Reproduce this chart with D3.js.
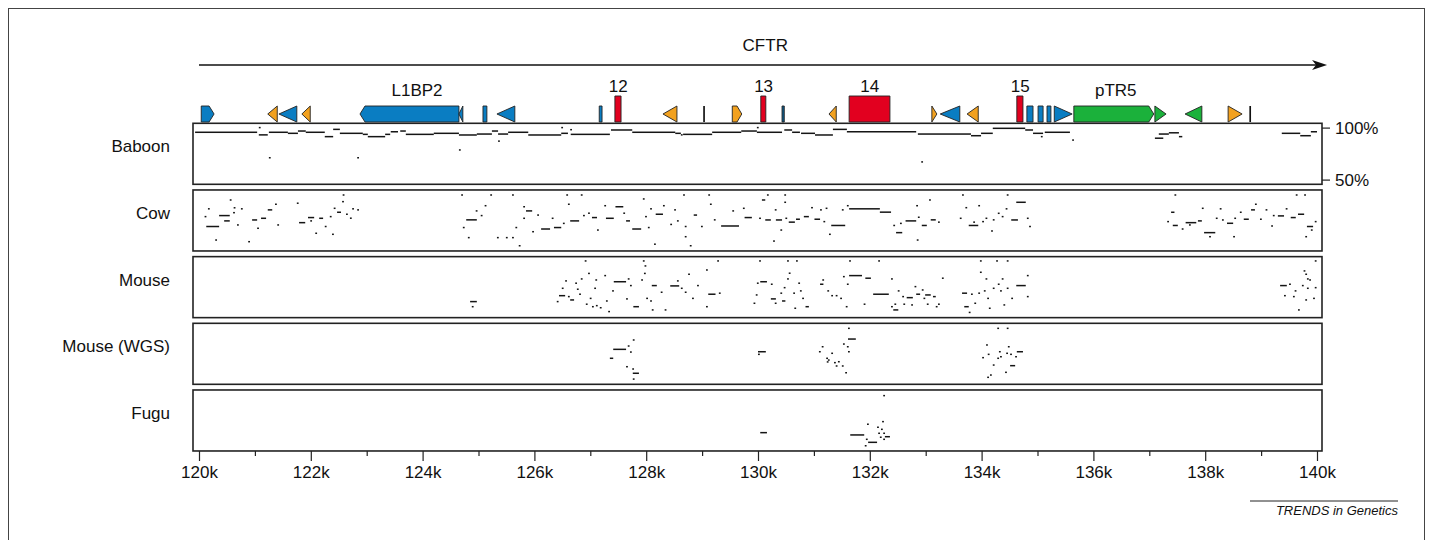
<!DOCTYPE html>
<html><head><meta charset="utf-8">
<script src="https://cdn.jsdelivr.net/npm/d3@7"></script>
<style>body{margin:0;background:#fff}svg{display:block}text{font-family:"Liberation Sans",Arial,sans-serif;fill:#111}</style>
</head><body><svg id="c" width="1433" height="540"></svg>
<script>
// ---------- DATA ----------
const species = ["Baboon","Cow","Mouse","Mouse (WGS)","Fugu"];
const xMajor = [120,122,124,126,128,130,132,134,136,138,140];
const xMinor = [121,123,125,127,129,131,133,135,137,139];
const xTickLabels = ["120k","122k","124k","126k","128k","130k","132k","134k","136k","138k","140k"];
const yTicks = [100,50];
const yTickLabels = ["100%","50%"];
const geneName = "CFTR";
const geneSpan = [120, 140.18];
const featStart = [120.04,121.23,121.43,121.84,122.88,124.65,125.08,125.33,127.16,127.44,128.30,129.02,129.54,130.05,130.43,131.27,131.63,133.11,133.26,133.74,134.63,134.81,135.01,135.17,135.30,135.65,137.10,137.64,138.41,138.79];
const featEnd   = [120.27,121.40,121.75,121.99,124.65,124.72,125.15,125.65,127.21,127.55,128.55,129.05,129.71,130.14,130.47,131.40,132.36,133.20,133.61,133.94,134.74,134.92,135.10,135.24,135.62,137.08,137.30,137.94,138.66,138.82];
const featShape = ["pentR","triL","triL","triL","pentL","triL","bar","triL","bar","exon","triL","bar","pentR","exon","bar","triL","exon","triR","triL","triL","exon","bar","bar","bar","triR","pentR","triR","triL","triR","bar"];
const featKind  = ["blue","orange","blue","orange","blue","blue","blue","blue","blue","red","orange","black","orange","red","navy","orange","red","orange","blue","orange","red","blue","blue","blue","blue","green","green","green","orange","black"];
const featLabels = ["L1BP2","12","13","14","15","pTR5"];
const featLabelPos = [123.9,127.50,130.10,132.0,134.69,136.40];
const featLabelKind = ["repeat","exon","exon","exon","exon","repeat"];

// [start kb, end kb, % identity]
const baboon = [
[119.93,121.04,95.5],[121.07,121.23,93],[121.25,121.59,95.5],[121.59,121.77,94.5],[121.77,121.91,96.7],[121.91,122.25,95.5],[122.25,122.40,91.3],[122.40,122.52,98.3],[122.52,122.93,94.5],[122.93,123.02,93.5],[123.02,123.33,91.3],[123.33,123.42,93.5],[123.43,123.56,96],[123.60,123.70,96.7],[123.70,124.20,93.5],[124.20,124.65,94.5],[124.65,124.97,92.9],[124.97,125.24,93.8],[125.24,125.35,96.7],[125.35,125.53,93.8],[125.53,125.89,95.5],[125.89,126.48,92.9],[126.48,126.60,94.5],[126.65,127.35,93.5],[127.37,127.75,97.7],[127.75,128.52,95.5],[128.52,128.62,94.5],[128.66,129.18,93.5],[129.18,129.70,95.5],[129.70,129.98,96.7],
[129.98,130.43,95.5],[130.47,130.61,97.7],[130.61,130.75,95.5],[130.77,131.02,94.5],[131.02,131.34,92.9],[131.34,131.59,98.3],[131.59,132.83,96],[132.86,133.81,93.8],[133.81,133.99,92.2],[133.99,134.20,94.5],[134.20,134.78,99.3],[134.78,134.92,97.7],[134.92,135.10,94.5],[135.13,135.58,95.5],
[137.10,137.25,89.8],[137.17,137.35,93.8],[137.35,137.53,95],[137.53,137.59,91.3],[139.37,139.70,94.5],[139.70,139.89,92.2],[139.89,140.0,96],
[121.07,121.07,100],[121.25,121.25,71],[122.83,122.83,71],[124.65,124.65,78.5],[125.35,125.35,87],[126.48,126.48,100],[126.64,126.64,98],[128.62,128.62,93],[129.98,129.98,100],[132.92,132.92,67],[135.06,135.06,91.3],[135.62,135.62,88]
];
const cow = [
[120.55,120.55,94.5],[120.16,120.16,86],[120.10,120.10,78.5],[120.36,120.55,79.5],[120.45,120.55,74.4],[120.13,120.36,69],[120.62,120.62,87],[120.61,120.61,82.3],[120.75,120.75,86],[120.68,120.68,70.5],[120.95,121.04,75.3],[121.11,121.20,76.9],[121.04,121.04,67.3],[121.23,121.31,85],[121.36,121.36,90.4],[121.40,121.40,70.5],[120.88,120.88,54.4],[120.29,120.29,56],
[121.75,121.75,91.4],[121.79,121.90,72.7],[121.95,122.06,77.6],[121.99,121.99,74.4],[122.15,122.22,76.9],[122.25,122.25,69],[122.34,122.34,78.5],[122.41,122.41,86.5],[122.47,122.54,82.7],[122.56,122.56,92.9],[122.57,122.57,99.3],[122.63,122.63,80.8],[122.70,122.70,77],[122.74,122.74,86],[122.83,122.83,85],[122.08,122.08,62.5],[122.38,122.38,61.5],
[124.69,124.69,99.3],[124.72,124.72,68],[124.78,124.97,75.4],[124.81,124.81,58.3],[124.95,124.95,84],[125.04,125.04,79.5],[125.11,125.11,89],[125.21,125.21,99.3],[125.33,125.33,58.3],[125.49,125.49,58.3],[125.60,125.60,99.3],[125.60,125.60,58.3],[125.66,125.66,68],[125.80,125.80,76.9],[125.80,125.80,88],[125.72,125.72,50.5],[125.85,125.96,84],[125.96,125.96,64],[126.05,126.05,80],[126.12,126.28,66.6],[126.31,126.31,76.9],[126.35,126.48,68],[126.51,126.51,72],[126.57,126.57,99.3],[126.64,126.80,74.4],[126.60,126.60,90.4],[126.83,126.83,99.3],[126.87,126.87,79.5],[126.96,126.96,81.8],[127.03,127.12,77.6],[127.12,127.12,65.6],[127.25,127.25,89],[127.28,127.42,76.9],[127.45,127.59,88],[127.59,127.59,81.8],[127.64,127.71,74.4],[127.75,127.91,66.6],[127.94,127.94,95.5],[127.98,127.98,78.5],[128.03,128.03,68],[128.07,128.07,86],[128.14,128.14,52],[128.17,128.30,80.8],[128.30,128.30,89],[128.43,128.43,71],[128.50,128.50,85],[128.55,128.55,74.4],[128.66,128.66,99.3],[128.69,128.69,59.2],[128.69,128.69,69],[128.78,128.78,50.5],[128.85,128.91,80],[128.98,128.98,69],[129.11,129.11,99.3],[129.14,129.14,90.4],[129.21,129.21,75.4],[129.34,129.66,69.5],[129.54,129.54,84],[129.73,129.73,86.5],[129.76,129.89,77.6],[130.02,130.02,76.9],
[130.07,130.13,94.5],[130.16,130.16,99.3],[130.47,130.47,99.3],[130.47,130.47,92.3],[130.30,130.30,85],[130.13,130.23,75.3],[130.27,130.27,55],[130.32,130.43,75.3],[130.40,130.40,65.6],[130.49,130.49,76.9],[130.55,130.66,73.2],[130.68,130.75,76],[130.82,130.91,78.5],[130.95,130.95,87.1],[131.01,131.11,76],[131.11,131.11,85],[131.17,131.17,73.7],[131.21,131.21,86.5],[131.27,131.27,61.5],[131.31,131.56,70],[131.50,131.50,85],[131.59,131.59,89],[131.63,132.18,86],[132.18,132.38,82.8],[132.42,132.42,70],[132.47,132.58,63.1],[132.54,132.54,72],[132.64,132.83,74.4],[132.83,132.83,89],[132.86,132.86,77.9],[132.93,133.02,70],[133.06,133.06,94.5],[133.09,133.18,75.4],[133.22,133.22,73.2],[132.84,132.84,56],
[133.65,133.65,99.3],[133.61,133.61,76.9],[133.71,133.71,87.1],[133.77,133.94,70],[133.85,133.85,73.2],[133.94,133.94,89],[134.01,134.01,73.7],[134.07,134.07,76.9],[134.17,134.17,64.7],[134.20,134.20,75.4],[134.29,134.29,81.7],[134.36,134.36,78.5],[134.45,134.45,99.3],[134.43,134.43,86],[134.53,134.65,75.3],[134.62,134.79,92.3],[134.81,134.81,76.9],[134.85,134.85,69],
[137.45,137.45,99.3],[137.39,137.45,82.7],[137.32,137.32,73.7],[137.42,137.51,70],[137.58,137.58,66.6],[137.65,137.84,72.7],[137.71,137.71,70.5],[137.87,137.94,74.4],[137.94,137.94,86.5],[137.98,138.18,63.1],[138.07,138.07,59.2],[138.19,138.19,76.9],[138.26,138.26,86],[138.30,138.30,75.3],[138.39,138.50,72.1],[138.50,138.50,59.2],[138.52,138.52,76.9],[138.62,138.62,82.7],[138.69,138.78,76],[138.82,138.89,85],[138.89,138.89,90.4],[138.98,138.98,76],[139.08,139.08,85],[139.18,139.18,69.5],[139.21,139.21,79.5],[139.30,139.41,79.2],[139.44,139.44,86],[139.53,139.62,77.6],[139.62,139.62,99.3],[139.66,139.77,80.8],[139.77,139.77,99.3],[139.79,139.79,59.2],[139.82,139.93,69],[139.89,139.89,65.6],[139.96,139.96,73.7]
];
const mouse = [
[124.85,124.97,60.9],[124.88,124.88,56],
[126.40,126.40,60.9],[126.44,126.55,66.6],[126.49,126.49,73.7],[126.55,126.55,80.8],[126.60,126.60,65.7],[126.64,126.71,62.5],[126.73,126.73,78.6],[126.76,126.76,72.8],[126.83,126.83,82.7],[126.80,126.80,68],[126.90,126.90,100],[126.92,126.92,58.4],[126.96,126.96,88],[126.99,126.99,64],[127.03,127.03,56],[127.10,127.10,57],[127.17,127.17,55],[127.07,127.07,73.7],[127.09,127.09,81.7],[127.25,127.25,85.9],[127.28,127.28,61.5],[127.32,127.32,51.3],[127.39,127.39,71.2],[127.42,127.64,80],[127.64,127.64,63.5],[127.67,127.67,82.7],[127.71,127.71,76.3],[127.77,127.87,56],[127.91,127.91,81.7],[127.94,127.94,100],[127.97,127.97,95.2],[127.96,127.96,88],[128.00,128.00,64],[128.07,128.07,61.5],[128.10,128.19,76.3],[128.10,128.10,52.9],[128.26,128.26,69.9],[128.33,128.33,52.9],[128.43,128.59,76],[128.55,128.55,80.8],[128.62,128.62,73.7],[128.69,128.69,69.9],[128.75,128.75,87.2],[128.82,128.82,64],[128.91,128.91,76.3],[129.07,129.07,91.3],[129.07,129.07,56],[129.11,129.24,68],[129.27,129.27,100],[129.30,129.30,69],
[129.92,129.92,59.3],[129.96,129.96,67.3],[129.98,129.98,78.6],[130.02,130.02,100],[130.04,130.16,80],[130.23,130.23,77.6],[130.52,130.52,100],[130.68,130.68,100],[130.55,130.55,88.2],[130.52,130.52,82.7],[130.46,130.46,74.3],[130.40,130.40,69],[130.23,130.32,63.5],[130.30,130.30,59.3],[130.43,130.49,61.5],[130.63,130.63,69],[130.65,130.65,54.5],[130.72,130.72,78.6],[130.75,130.75,71.2],[130.79,130.79,64],[130.85,130.91,56],[131.11,131.17,77.6],[131.15,131.15,81.7],[131.24,131.24,71.2],[131.31,131.31,66.6],[131.39,131.39,66.6],[131.47,131.47,64],[131.57,131.57,56],[131.52,131.52,84.9],[131.63,131.86,85.9],[131.63,131.63,100],[131.59,131.59,77.6],[131.89,131.89,58.4],[131.92,132.02,83.4],[132.06,132.34,68],[132.15,132.15,100],[132.38,132.38,82.7],[132.38,132.38,56],[132.42,132.51,52.9],[132.44,132.44,58.4],[132.50,132.50,71.2],[132.58,132.58,65.7],[132.60,132.60,58.4],[132.66,132.77,64.7],[132.74,132.74,57.7],[132.80,132.80,75.3],[132.83,132.90,68],[132.93,132.93,72.1],[132.96,132.96,64],[132.99,133.09,67.3],[133.02,133.02,58.4],[133.13,133.18,65.7],[133.22,133.22,58.4],[133.29,133.29,83.4],[133.18,133.18,56],
[133.65,133.74,69],[133.69,133.77,56],[133.77,133.77,50.5],[133.81,133.81,68],[133.87,133.87,59.3],[133.94,133.94,69],[133.97,133.97,100],[133.97,133.97,89.1],[134.04,134.04,71.2],[134.07,134.07,82.7],[134.10,134.10,64],[134.13,134.13,54.5],[134.20,134.20,73.7],[134.26,134.26,100],[134.29,134.29,77.6],[134.33,134.33,71.2],[134.36,134.36,82.7],[134.39,134.39,57.7],[134.45,134.45,100],[134.45,134.45,73.7],[134.53,134.53,64],[134.62,134.79,76.3],[134.81,134.81,85.9],[134.81,134.81,65.7],
[139.34,139.46,76.3],[139.50,139.50,77.6],[139.41,139.41,66.6],[139.57,139.60,65.7],[139.60,139.60,71.2],[139.66,139.66,52.9],[139.73,139.73,76.3],[139.76,139.76,90.4],[139.79,139.79,87.2],[139.82,139.82,82.7],[139.82,139.82,73.7],[139.86,139.86,81.7],[139.96,139.96,74.3],[139.93,139.93,64],[139.96,139.96,100],[139.79,139.79,62.5]
];
const mouseWGS = [
[127.76,127.76,88.1],[127.41,127.64,79.1],[127.67,127.67,82.3],[127.71,127.71,76.5],[127.35,127.41,70.5],[127.64,127.64,62.4],[127.75,127.75,60.2],[127.76,127.87,56.1],[127.76,127.76,50.5],
[130.00,130.14,76.8],[130.00,130.00,74.3],
[131.61,131.61,99.3],[131.61,131.75,89],[131.52,131.52,84.2],[131.14,131.14,81.6],[131.59,131.59,81.6],[131.61,131.61,76.8],[131.09,131.09,76.8],[131.31,131.31,75.3],[131.22,131.22,70.5],[131.25,131.25,68.8],[131.23,131.23,67],[131.36,131.36,66.3],[131.43,131.43,67.2],[131.39,131.39,63.1],[131.50,131.50,63.1],[131.56,131.56,56.6],
[134.28,134.28,99.3],[134.45,134.45,99.3],[134.08,134.08,83.3],[134.47,134.47,81.6],[134.63,134.74,76.8],[134.31,134.31,76.8],[134.44,134.44,75.3],[134.51,134.51,74.3],[134.11,134.11,74.3],[134.01,134.04,71.1],[134.28,134.28,70.5],[134.33,134.33,72],[134.60,134.60,72],[134.51,134.60,63.4],[134.20,134.20,64],[134.42,134.42,57],[134.15,134.15,54.4],[134.10,134.10,52.2]
];
const fugu = [
[130.04,130.16,63.1],
[132.24,132.24,98.7],[132.22,132.22,73.7],[131.95,131.95,71.2],[132.13,132.13,68.3],[132.20,132.20,66.3],[131.65,131.90,60.9],[132.15,132.15,62.5],[132.24,132.24,62.5],[132.18,132.18,58.7],[132.27,132.36,59.2],[131.93,131.93,56.7],[132.24,132.24,56.7],[131.97,132.13,53.8],[131.91,131.91,50.5]
];
const speciesData = [baboon, cow, mouse, mouseWGS, fugu];

// ---------- LAYOUT ----------
const svg = d3.select("#c");
const W = 1433, H = 540;
const x = d3.scaleLinear().domain([120,140]).range([199,1317]);
const panelLeft = x(120) - 6, panelRight = x(140) + 5;
const panelTop0 = 123.3, panelStep = 66.67, panelH = 61;
const colors = {blue:"#0a7dc2", orange:"#f2a11f", green:"#1bb13b", red:"#e2001f", navy:"#0b5a8a", black:"#111"};

// outer frame
svg.append("rect").attr("x",8.5).attr("y",8.5).attr("width",W-17).attr("height",H-8)
  .attr("fill","none").attr("stroke","#444").attr("stroke-width",1);

// gene arrow
const gy = 65;
svg.append("line").attr("x1",x(geneSpan[0])).attr("x2",x(geneSpan[1])-6).attr("y1",gy).attr("y2",gy)
  .attr("stroke","#111").attr("stroke-width",1.3);
const ax = x(geneSpan[1]);
svg.append("path").attr("d",`M${ax},${gy} L${ax-15},${gy-5} L${ax-11},${gy} L${ax-15},${gy+5} Z`).attr("fill","#111");
svg.append("text").attr("x",x(130.13)).attr("y",51).attr("text-anchor","middle").attr("font-size",17).text(geneName);

// features
const fb = 122, smallH = 16, exonH = 26;
featStart.forEach((s,i)=>{
  const x0 = x(s), x1 = Math.max(x(featEnd[i]), x0+1.6), shape = featShape[i], col = colors[featKind[i]];
  const y0 = fb - (shape==="exon" ? exonH : smallH), y1 = fb, ym = (y0+y1)/2;
  let d;
  const dd = Math.min(5,(x1-x0)/2);
  if (shape==="triL") d = `M${x1},${y0} L${x0},${ym} L${x1},${y1} Z`;
  else if (shape==="triR") d = `M${x0},${y0} L${x1},${ym} L${x0},${y1} Z`;
  else if (shape==="pentR") d = `M${x0},${y0} L${x1-dd},${y0} L${x1},${ym} L${x1-dd},${y1} L${x0},${y1} Z`;
  else if (shape==="pentL") d = `M${x1},${y0} L${x0+dd},${y0} L${x0},${ym} L${x0+dd},${y1} L${x1},${y1} Z`;
  else d = `M${x0},${y0} L${x1},${y0} L${x1},${y1} L${x0},${y1} Z`;
  svg.append("path").attr("d",d).attr("fill",col)
    .attr("stroke", featKind[i]==="black" ? "none" : "#222").attr("stroke-width",0.9).attr("stroke-linejoin","miter");
});
featLabels.forEach((t,i)=>{
  svg.append("text").attr("x",x(featLabelPos[i])).attr("y", featLabelKind[i]==="exon" ? 92 : 96)
    .attr("text-anchor","middle").attr("font-size",17).text(t);
});

// panels
species.forEach((name,i)=>{
  const top = panelTop0 + i*panelStep;
  const y = d3.scaleLinear().domain([50,100]).range([top+56.3, top+4.3]);
  const g = svg.append("g");
  g.append("rect").attr("x",panelLeft).attr("y",top).attr("width",panelRight-panelLeft).attr("height",panelH)
    .attr("fill","#fff").attr("stroke","#222").attr("stroke-width",1.6);
  g.selectAll("rect.m").data(speciesData[i]).join("rect").attr("class","m")
    .attr("x",d=>x(d[0])).attr("width",d=>Math.max(1.8, x(d[1])-x(d[0])))
    .attr("y",d=>y(d[2])-0.75).attr("height",1.5).attr("fill","#151515");
  svg.append("text").attr("x",170).attr("y",top+29).attr("text-anchor","end").attr("font-size",17).text(name);
  if (i===0) {
    const yAxis = d3.axisRight(y).tickValues(yTicks).tickSize(8).tickPadding(5)
      .tickFormat((d,k)=>yTickLabels[k]);
    const ga = svg.append("g").attr("transform",`translate(${panelRight},0)`).call(yAxis);
    ga.select(".domain").remove();
    ga.selectAll("line").attr("stroke","#222").attr("stroke-width",1.2);
    ga.selectAll("text").attr("font-size",17).attr("font-family","Liberation Sans, Arial, sans-serif").attr("fill","#111");
  }
});

// x axis
const axisY = panelTop0 + 4*panelStep + panelH;
const gMin = svg.append("g").attr("transform",`translate(0,${axisY})`)
  .call(d3.axisBottom(x).tickValues(xMinor).tickSize(5).tickFormat(""));
gMin.select(".domain").remove();
const gMaj = svg.append("g").attr("transform",`translate(0,${axisY})`)
  .call(d3.axisBottom(x).tickValues(xMajor).tickSize(10).tickPadding(5).tickFormat((d,k)=>xTickLabels[k]));
gMaj.select(".domain").remove();
[gMin,gMaj].forEach(g=>g.selectAll("line").attr("stroke","#222").attr("stroke-width",1.2));
gMaj.selectAll("text").attr("font-size",17).attr("font-family","Liberation Sans, Arial, sans-serif").attr("fill","#111");

// credit
svg.append("line").attr("x1",1250).attr("x2",1398).attr("y1",501).attr("y2",501).attr("stroke","#222").attr("stroke-width",1);
svg.append("text").attr("x",1398).attr("y",515).attr("text-anchor","end").attr("font-size",13)
  .attr("font-style","italic").text("TRENDS in Genetics");
</script></body></html>
